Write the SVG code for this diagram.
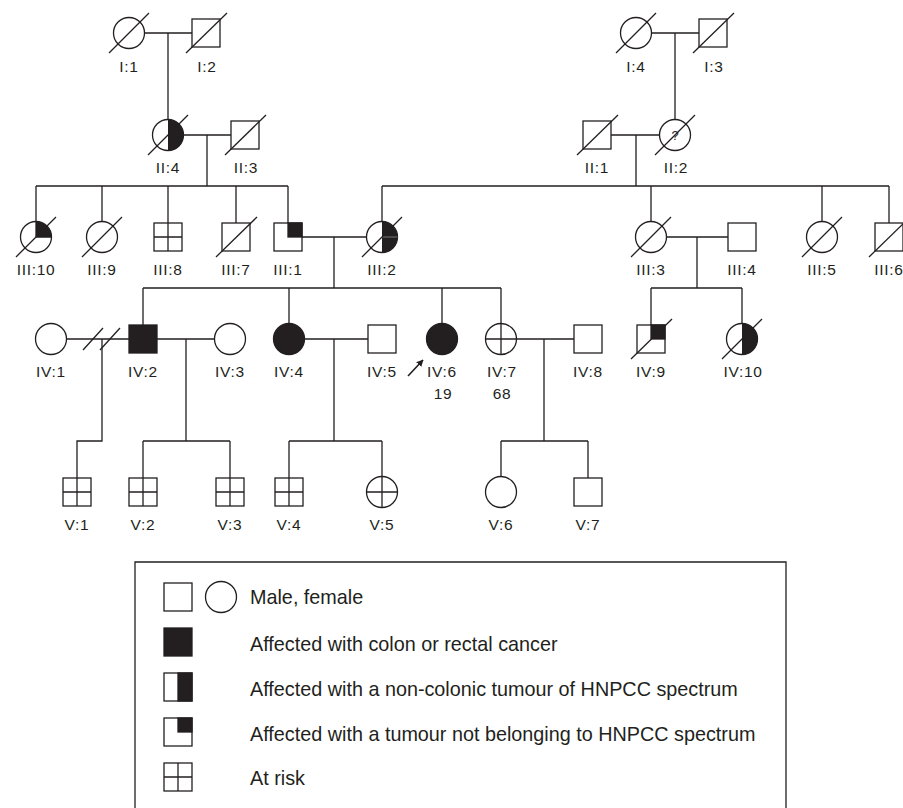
<svg xmlns="http://www.w3.org/2000/svg" width="903" height="808" viewBox="0 0 903 808">
<style>
.s{fill:#fff;stroke:#231f20;stroke-width:1.3}
.f{fill:#231f20;stroke:#231f20;stroke-width:1.3}
.k{fill:#231f20;stroke:none}
.l{fill:none;stroke:#231f20;stroke-width:1.3}
.d{fill:none;stroke:#231f20;stroke-width:1.3}
.t{font-family:"Liberation Sans",Arial,sans-serif;font-size:15.5px;fill:#231f20;text-anchor:middle;letter-spacing:0.7px}
.g{font-family:"Liberation Sans",Arial,sans-serif;font-size:19.8px;fill:#231f20}
</style>
<defs>
<marker id="ah" viewBox="0 0 10 10" refX="9" refY="5" markerWidth="7" markerHeight="7" orient="auto" markerUnits="userSpaceOnUse"><path d="M0,0 L10,5 L0,10 Z" fill="#231f20"/></marker>
</defs>
<rect width="903" height="808" fill="#fff"/>
<g id="connectors" class="l">
<path d="M144.5,33H192M168,33V119.5"/>
<path d="M651.5,33H699M675,33V119.5"/>
<path d="M183.5,135H231M207,135V186M36,186H288M36,186V221.5M102,186V221.5M168,186V223M236,186V223M288,186V223"/>
<path d="M611,135H659.5M636,135V186M382,186H889M382,186V221.5M651,186V221.5M822,186V221.5M889,186V223"/>
<path d="M302,237H366.5M334,237V288M143,288H501M143,288V325M289,288V323.5M442,288V323.5M501,288V323.5"/>
<path d="M666.5,237H728M697,237V288M651,288H742M651,288V325M742,288V323.5"/>
<path d="M66.5,339H129M102,339V441H77V478"/>
<path d="M83,350L103,328M100,350L120,328"/>
<path d="M157,339H214.5M186,339V441M143,441H230M143,441V478M230,441V478"/>
<path d="M304.5,339H368M334,339V441M289,441H382M289,441V478M382,441V476.5"/>
<path d="M516.5,339H574M544,339V441M501,441H588M501,441V476.5M588,441V478"/>
<line x1="408" y1="376" x2="423" y2="360" marker-end="url(#ah)" stroke-width="1.6"/>
</g>
<g id="I1"><circle class="s" cx="129" cy="33" r="15.5"/><path class="d" d="M109,53L149,13"/><text class="t" x="129" y="72">I:1</text></g>
<g id="I2"><rect class="s" x="192" y="19" width="28" height="28"/><path class="d" d="M186,53L227,13"/><text class="t" x="207" y="72">I:2</text></g>
<g id="I4"><circle class="s" cx="636" cy="33" r="15.5"/><path class="d" d="M616,53L656,13"/><text class="t" x="636" y="72">I:4</text></g>
<g id="I3"><rect class="s" x="699" y="19" width="28" height="28"/><path class="d" d="M693,53L734,13"/><text class="t" x="714" y="72">I:3</text></g>
<g id="II4"><circle class="s" cx="168" cy="135" r="15.5"/><path class="k" d="M168,119.5A15.5,15.5 0 0 1 168,150.5Z"/><path class="d" d="M148,155L188,115"/><text class="t" x="168" y="173">II:4</text></g>
<g id="II3"><rect class="s" x="231" y="121" width="28" height="28"/><path class="d" d="M225,155L266,115"/><text class="t" x="246" y="173">II:3</text></g>
<g id="II1"><rect class="s" x="583" y="121" width="28" height="28"/><path class="d" d="M577,155L618,115"/><text class="t" x="597" y="173">II:1</text></g>
<g id="II2"><circle class="s" cx="675" cy="135" r="15.5"/><text x="675" y="140" font-family="Liberation Sans,Arial,sans-serif" font-size="13" text-anchor="middle" fill="#231f20">?</text><path class="d" d="M655,155L695,115"/><text class="t" x="676" y="173">II:2</text></g>
<g id="III10"><circle class="s" cx="36" cy="237" r="15.5"/><path class="k" d="M36,237V221.5A15.5,15.5 0 0 1 51.5,237Z"/><path class="l" d="M36,237V221.5M36,237H51.5"/><path class="d" d="M16,257L56,217"/><text class="t" x="36" y="275">III:10</text></g>
<g id="III9"><circle class="s" cx="102" cy="237" r="15.5"/><path class="d" d="M82,257L122,217"/><text class="t" x="102" y="275">III:9</text></g>
<g id="III8"><rect class="s" x="154" y="223" width="28" height="28"/><path class="l" d="M168,223V251M154,237H182"/><text class="t" x="168" y="275">III:8</text></g>
<g id="III7"><rect class="s" x="222" y="223" width="28" height="28"/><path class="d" d="M216,257L257,217"/><text class="t" x="236" y="275">III:7</text></g>
<g id="III1"><rect class="s" x="274" y="223" width="28" height="28"/><rect class="f" x="288" y="223" width="14" height="14"/><text class="t" x="288" y="275">III:1</text></g>
<g id="III2"><circle class="s" cx="382" cy="237" r="15.5"/><path class="k" d="M382,221.5A15.5,15.5 0 0 1 382,252.5Z"/><path d="M382,237H397.5" stroke="#777" stroke-width="1"/><path class="d" d="M362,257L402,217"/><text class="t" x="382" y="275">III:2</text></g>
<g id="III3"><circle class="s" cx="651" cy="237" r="15.5"/><path class="d" d="M631,257L671,217"/><text class="t" x="651" y="275">III:3</text></g>
<g id="III4"><rect class="s" x="728" y="223" width="28" height="28"/><text class="t" x="742" y="275">III:4</text></g>
<g id="III5"><circle class="s" cx="822" cy="237" r="15.5"/><path class="d" d="M802,257L842,217"/><text class="t" x="822" y="275">III:5</text></g>
<g id="III6"><rect class="s" x="875" y="223" width="28" height="28"/><path class="d" d="M869,257L910,217"/><text class="t" x="889" y="275">III:6</text></g>
<g id="IV1"><circle class="s" cx="51" cy="339" r="15.5"/><text class="t" x="51" y="377">IV:1</text></g>
<g id="IV2"><rect class="f" x="129" y="325" width="28" height="28"/><text class="t" x="143" y="377">IV:2</text></g>
<g id="IV3"><circle class="s" cx="230" cy="339" r="15.5"/><text class="t" x="230" y="377">IV:3</text></g>
<g id="IV4"><circle class="f" cx="289" cy="339" r="15.5"/><text class="t" x="289" y="377">IV:4</text></g>
<g id="IV5"><rect class="s" x="368" y="325" width="28" height="28"/><text class="t" x="382" y="377">IV:5</text></g>
<g id="IV6"><circle class="f" cx="442" cy="339" r="15.5"/><text class="t" x="442" y="377">IV:6</text><text class="t" x="443" y="399">19</text></g>
<g id="IV7"><circle class="s" cx="501" cy="339" r="15.5"/><path class="l" d="M501,323.5V354.5M485.5,339H516.5"/><text class="t" x="502" y="377">IV:7</text><text class="t" x="502" y="399">68</text></g>
<g id="IV8"><rect class="s" x="574" y="325" width="28" height="28"/><text class="t" x="588" y="377">IV:8</text></g>
<g id="IV9"><rect class="s" x="637" y="325" width="28" height="28"/><rect class="f" x="651" y="325" width="14" height="14"/><path class="d" d="M631,359L672,319"/><text class="t" x="651" y="377">IV:9</text></g>
<g id="IV10"><circle class="s" cx="742" cy="339" r="15.5"/><path class="k" d="M742,323.5A15.5,15.5 0 0 1 742,354.5Z"/><path class="d" d="M722,359L762,319"/><text class="t" x="743" y="377">IV:10</text></g>
<g id="V1"><rect class="s" x="63" y="478" width="28" height="28"/><path class="l" d="M77,478V506M63,492H91"/><text class="t" x="77" y="530">V:1</text></g>
<g id="V2"><rect class="s" x="129" y="478" width="28" height="28"/><path class="l" d="M143,478V506M129,492H157"/><text class="t" x="143" y="530">V:2</text></g>
<g id="V3"><rect class="s" x="216" y="478" width="28" height="28"/><path class="l" d="M230,478V506M216,492H244"/><text class="t" x="230" y="530">V:3</text></g>
<g id="V4"><rect class="s" x="275" y="478" width="28" height="28"/><path class="l" d="M289,478V506M275,492H303"/><text class="t" x="289" y="530">V:4</text></g>
<g id="V5"><circle class="s" cx="382" cy="492" r="15.5"/><path class="l" d="M382,476.5V507.5M366.5,492H397.5"/><text class="t" x="382" y="530">V:5</text></g>
<g id="V6"><circle class="s" cx="501" cy="492" r="15.5"/><text class="t" x="501" y="530">V:6</text></g>
<g id="V7"><rect class="s" x="574" y="478" width="28" height="28"/><text class="t" x="588" y="530">V:7</text></g>
<g id="legend">
<path class="l" d="M135,808V562H786V808"/>
<rect class="s" x="164" y="583" width="28" height="28"/>
<circle class="s" cx="221" cy="597" r="15.5"/>
<text class="g" x="250" y="604">Male, female</text>
<rect class="f" x="164" y="628" width="28" height="28"/>
<text class="g" x="250" y="651">Affected with colon or rectal cancer</text>
<rect class="s" x="164" y="673" width="28" height="28"/>
<rect class="f" x="178" y="673" width="14" height="28"/>
<text class="g" x="250" y="696">Affected with a non-colonic tumour of HNPCC spectrum</text>
<rect class="s" x="164" y="718" width="28" height="28"/>
<rect class="f" x="178" y="718" width="14" height="14"/>
<text class="g" x="250" y="741">Affected with a tumour not belonging to HNPCC spectrum</text>
<rect class="s" x="164" y="763" width="28" height="28"/>
<path class="l" d="M178,763V791M164,777H192"/>
<text class="g" x="250" y="785">At risk</text>
</g>
</svg>
